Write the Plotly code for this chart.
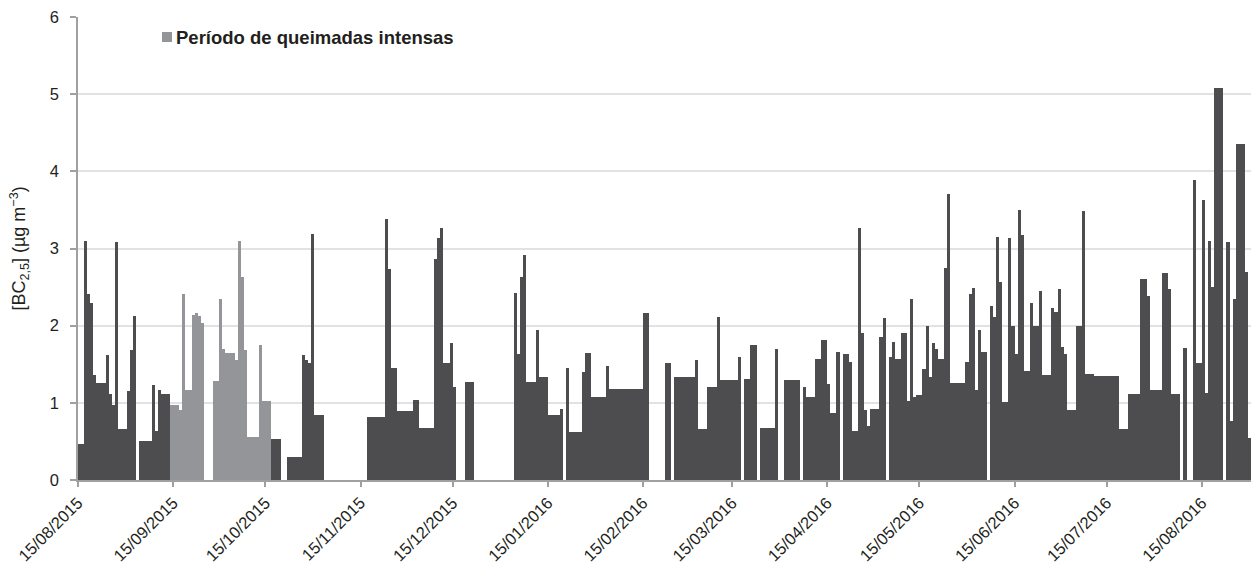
import datetime as dt
import plotly.graph_objects as go

# Black carbon (BC2.5) sampling record: each sample covers one or more days.
sample_start = [
    "2015-08-15", "2015-08-17", "2015-08-18", "2015-08-19", "2015-08-20", "2015-08-21",
    "2015-08-24", "2015-08-25", "2015-08-26", "2015-08-27", "2015-08-28", "2015-08-31",
    "2015-09-01", "2015-09-02", "2015-09-04", "2015-09-08", "2015-09-09", "2015-09-10",
    "2015-09-11",
    "2015-09-14", "2015-09-17", "2015-09-18", "2015-09-19", "2015-09-21", "2015-09-22",
    "2015-09-23", "2015-09-24", "2015-09-28", "2015-09-30", "2015-10-01", "2015-10-02",
    "2015-10-05", "2015-10-06", "2015-10-07", "2015-10-08", "2015-10-09", "2015-10-13",
    "2015-10-14",
    "2015-10-17", "2015-10-22", "2015-10-27", "2015-10-28", "2015-10-29", "2015-10-30",
    "2015-10-31", "2015-11-17", "2015-11-23", "2015-11-24", "2015-11-25", "2015-11-27",
    "2015-12-02", "2015-12-04", "2015-12-09", "2015-12-10", "2015-12-11", "2015-12-12",
    "2015-12-14", "2015-12-15", "2015-12-19",
    "2016-01-04", "2016-01-05", "2016-01-06", "2016-01-07", "2016-01-08", "2016-01-11",
    "2016-01-12", "2016-01-15", "2016-01-19", "2016-01-21", "2016-01-22", "2016-01-26",
    "2016-01-27", "2016-01-29", "2016-02-03", "2016-02-04", "2016-02-15", "2016-02-22",
    "2016-02-25", "2016-03-03", "2016-03-04", "2016-03-07", "2016-03-10", "2016-03-11",
    "2016-03-17", "2016-03-19", "2016-03-21", "2016-03-24", "2016-03-29",
    "2016-04-01", "2016-04-07", "2016-04-08", "2016-04-11", "2016-04-13", "2016-04-15",
    "2016-04-16", "2016-04-18", "2016-04-20", "2016-04-22", "2016-04-23", "2016-04-25",
    "2016-04-26", "2016-04-27", "2016-04-28", "2016-04-29",
    "2016-05-02", "2016-05-03", "2016-05-05", "2016-05-06", "2016-05-07", "2016-05-09",
    "2016-05-11", "2016-05-12", "2016-05-13", "2016-05-14", "2016-05-16", "2016-05-17",
    "2016-05-18", "2016-05-19", "2016-05-20", "2016-05-21", "2016-05-23", "2016-05-24",
    "2016-05-25", "2016-05-30", "2016-05-31",
    "2016-06-01", "2016-06-02", "2016-06-03", "2016-06-04", "2016-06-07", "2016-06-08",
    "2016-06-09", "2016-06-10", "2016-06-11", "2016-06-13", "2016-06-14", "2016-06-15",
    "2016-06-16", "2016-06-17", "2016-06-18", "2016-06-20", "2016-06-21", "2016-06-23",
    "2016-06-24", "2016-06-27", "2016-06-28", "2016-06-29", "2016-06-30",
    "2016-07-01", "2016-07-02", "2016-07-05", "2016-07-07", "2016-07-08", "2016-07-11",
    "2016-07-19", "2016-07-22", "2016-07-26", "2016-07-28", "2016-07-29",
    "2016-08-02", "2016-08-04", "2016-08-05", "2016-08-09", "2016-08-12", "2016-08-13",
    "2016-08-15", "2016-08-16", "2016-08-17", "2016-08-18", "2016-08-19", "2016-08-23",
    "2016-08-24", "2016-08-25", "2016-08-26", "2016-08-29", "2016-08-30",
]

# Number of days covered by each sample
sample_days = [
    2, 1, 1, 1, 1, 3,
    1, 1, 1, 1, 3, 1,
    1, 1, 4, 1, 1, 1,
    3,
    3, 1, 1, 2, 1, 1,
    1, 1, 2, 1, 1, 3,
    1, 1, 1, 1, 4, 1,
    3,
    3, 5, 1, 1, 1, 1,
    3, 6, 1, 1, 2, 5,
    2, 5, 1, 1, 1, 2,
    1, 1, 3,
    1, 1, 1, 1, 3, 1,
    3, 4, 1, 1, 4, 1,
    2, 5, 1, 11, 2, 2,
    7, 1, 3, 3, 1, 6,
    1, 2, 2, 5, 1,
    5, 1, 3, 2, 2, 1,
    2, 1, 2, 1, 2, 1,
    1, 1, 1, 3,
    1, 1, 1, 1, 2, 2,
    1, 1, 1, 2, 1, 1,
    1, 1, 1, 2, 1, 1,
    5, 1, 1,
    1, 1, 1, 2, 1, 1,
    1, 1, 2, 1, 1, 1,
    1, 1, 2, 1, 2, 1,
    3, 1, 1, 1, 1,
    1, 3, 2, 1, 3, 8,
    3, 4, 2, 1, 4,
    2, 1, 3, 1, 1, 2,
    1, 1, 1, 1, 3, 1,
    1, 1, 3, 1, 1,
]

# BC2.5 concentration (µg m-3)
bc_value = [
    0.47, 3.10, 2.41, 2.29, 1.36, 1.26,
    1.62, 1.11, 0.97, 3.08, 0.66, 1.15,
    1.68, 2.12, 0.50, 1.23, 0.63, 1.16,
    1.11,
    0.97, 0.91, 2.41, 1.17, 2.14, 2.17,
    2.12, 2.03, 1.28, 2.35, 1.70, 1.65,
    1.55, 3.10, 2.63, 1.68, 0.56, 1.75,
    1.03,
    0.53, 0.30, 1.62, 1.55, 1.51, 3.19,
    0.84, 0.82, 3.38, 2.73, 1.45, 0.90,
    1.04, 0.67, 2.87, 3.14, 3.26, 1.51,
    1.77, 1.20, 1.27,
    2.42, 1.63, 2.63, 2.91, 1.27, 1.95,
    1.33, 0.84, 0.92, 1.45, 0.62, 1.40,
    1.65, 1.07, 1.48, 1.18, 2.16, 1.52,
    1.33, 1.56, 0.66, 1.21, 2.11, 1.30,
    1.60, 1.31, 1.75, 0.67, 1.70,
    1.29, 1.20, 1.08, 1.57, 1.81, 1.25,
    0.87, 1.66, 1.63, 1.53, 0.64, 3.27,
    1.91, 0.91, 0.70, 0.92,
    1.85, 2.10, 1.60, 1.79, 1.57, 1.91,
    1.02, 2.35, 1.07, 1.10, 1.44, 2.00,
    1.33, 1.77, 1.70, 1.57, 2.75, 3.70,
    1.26, 1.53, 2.41,
    2.49, 1.16, 1.95, 1.66, 2.26, 2.11,
    3.15, 2.57, 1.01, 3.13, 2.00, 1.63,
    3.50, 3.17, 1.41, 2.30, 1.99, 2.45,
    1.36, 2.23, 2.18, 2.47, 1.73,
    1.63, 0.91, 2.00, 3.48, 1.37, 1.35,
    0.66, 1.12, 2.60, 2.38, 1.16,
    2.68, 2.47, 1.11, 1.71, 3.89, 1.52,
    3.63, 1.13, 3.10, 2.50, 5.08, 3.08,
    0.76, 2.34, 4.35, 2.69, 0.55,
]

# Intense biomass-burning period
burn_start = "2015-09-14"
burn_end = "2015-10-17"

tick_dates = ["2015-08-15", "2015-09-15", "2015-10-15", "2015-11-15", "2015-12-15",
              "2016-01-15", "2016-02-15", "2016-03-15", "2016-04-15", "2016-05-15",
              "2016-06-15", "2016-07-15", "2016-08-15"]

legend_label = "Período de queimadas intensas"

DARK = "#4d4d4f"
LIGHT = "#939598"
TEXT = "#231f20"
AXIS = "#a0a0a0"
GRID = "#e2e2e2"
FONT = "Liberation Sans, Arial, sans-serif"
DAY_MS = 86400000

b0 = dt.date.fromisoformat(burn_start)
b1 = dt.date.fromisoformat(burn_end)

groups = {"normal": ([], [], []), "burn": ([], [], [])}
for s, n, v in zip(sample_start, sample_days, bc_value):
    d = dt.date.fromisoformat(s)
    key = "burn" if b0 <= d < b1 else "normal"
    groups[key][0].append(s)
    groups[key][1].append(n * DAY_MS)
    groups[key][2].append(v)

fig = go.Figure()
for key, color in (("normal", DARK), ("burn", LIGHT)):
    xs, ws, vs = groups[key]
    fig.add_trace(go.Bar(
        x=xs, y=vs, width=ws, offset=0,
        marker=dict(color=color, line=dict(width=0)),
        showlegend=False,
    ))

first_day = dt.date.fromisoformat(sample_start[0])
last_day = dt.date.fromisoformat(sample_start[-1]) + dt.timedelta(days=sample_days[-1])

fig.update_layout(
    width=1259, height=569,
    margin=dict(l=78, r=8, t=17, b=89),
    paper_bgcolor="white", plot_bgcolor="white",
    bargap=0,
    font=dict(family=FONT, size=16, color=TEXT),
    xaxis=dict(
        type="date",
        range=[first_day.isoformat(), last_day.isoformat()],
        tickvals=tick_dates,
        tickformat="%d/%m/%Y",
        tickangle=-45,
        automargin=False,
        showgrid=False,
        showline=True, linecolor=AXIS, linewidth=1.5,
        ticks="outside", ticklen=5, tickcolor=AXIS, tickwidth=1.5,
        tickfont=dict(size=16.5, color=TEXT),
        zeroline=False,
    ),
    yaxis=dict(
        range=[0, 6], dtick=1, tick0=0,
        automargin=False,
        showgrid=True, gridcolor=GRID, gridwidth=1.5,
        showline=True, linecolor=AXIS, linewidth=1.5,
        ticks="outside", ticklen=6, tickcolor=AXIS, tickwidth=1.5,
        ticklabelstandoff=8,
        tickfont=dict(size=16.5, color=TEXT),
        zeroline=False,
        title=dict(text="[BC<sub>2,5</sub>] (µg m<sup>−3</sup>)",
                   font=dict(size=18, color=TEXT), standoff=19),
    ),
)

# Legend entry for the burning period
fig.add_shape(type="rect", xref="paper", yref="paper",
              x0=(162 - 78) / 1173, x1=(172 - 78) / 1173,
              y0=(480 - 42) / 463, y1=(480 - 32) / 463,
              fillcolor=LIGHT, line=dict(width=0))
fig.add_annotation(xref="paper", yref="paper",
                   x=(174 - 78) / 1173, y=(480 - 37) / 463,
                   xanchor="left", yanchor="middle", showarrow=False,
                   text="<b>" + legend_label + "</b>",
                   font=dict(family=FONT, size=18.5, color=TEXT))

fig.write_html("out.html")
